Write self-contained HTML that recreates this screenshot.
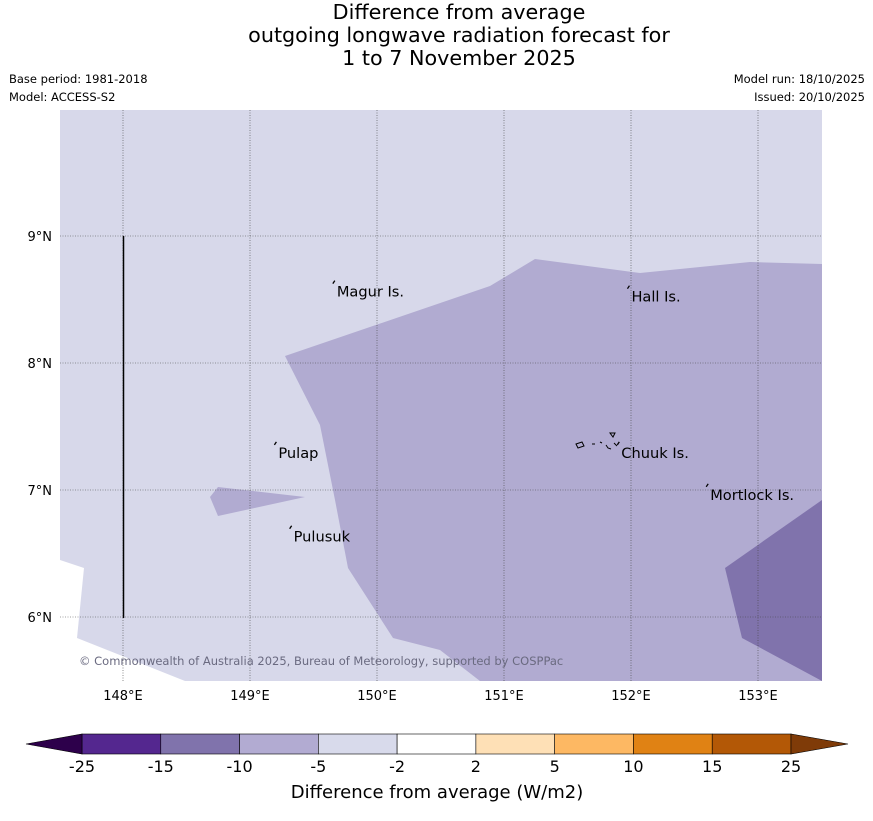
<!DOCTYPE html>
<html><head><meta charset="utf-8">
<style>
body{margin:0;background:#fff;font-family:"Liberation Sans","DejaVu Sans",sans-serif;}
svg text{font-family:"DejaVu Sans","Liberation Sans",sans-serif;}
</style></head>
<body>
<svg id="chart" width="873" height="816" viewBox="0 0 873 816" xmlns="http://www.w3.org/2000/svg">
<g font-size="20.7" text-anchor="middle" fill="#000">
<text x="459" y="19">Difference from average</text>
<text x="459" y="42">outgoing longwave radiation forecast for</text>
<text x="459" y="65">1 to 7 November 2025</text>
</g>
<text x="9" y="83" font-size="11.5">Base period: 1981-2018</text>
<text x="9" y="101" font-size="11.5">Model: ACCESS-S2</text>
<text x="865" y="83" font-size="11.5" text-anchor="end">Model run: 18/10/2025</text>
<text x="865" y="101" font-size="11.5" text-anchor="end">Issued: 20/10/2025</text>
<defs><clipPath id="mc"><rect x="60" y="110" width="762" height="571"/></clipPath></defs>
<g id="map" clip-path="url(#mc)"></g>
<g id="axes"></g>
<g id="cbar"></g>
<text x="437" y="798" font-size="18" text-anchor="middle">Difference from average (W/m2)</text>
</svg>
<script>
const lonTicks=[148,149,150,151,152,153];
const latTicks=[9,8,7,6];
const cbBounds=[-25,-15,-10,-5,-2,2,5,10,15,25];
const cbColors=['#54278f','#8073ac','#b2abd2','#d8daeb','#ffffff','#fee0b6','#fdb863','#e08214','#b35806'];
const cbLowColor='#2d004b', cbHighColor='#7f3b08';
const islands=[['Magur Is.',149.66,8.57],['Hall Is.',151.98,8.53],['Pulap',149.2,7.3],['Chuuk Is.',151.9,7.3],['Mortlock Is.',152.6,6.97],['Pulusuk',149.32,6.64]];
const x=lon=>123+(lon-148)*127, y=lat=>236-(lat-9)*127;
const NS='http://www.w3.org/2000/svg';
function mk(t,a,p){const e=document.createElementNS(NS,t);for(const k in a)e.setAttribute(k,a[k]);p.appendChild(e);return e;}
const map=document.getElementById('map'),axes=document.getElementById('axes'),cb=document.getElementById('cbar');
let e;
e=mk('rect',{x:60,y:110,width:762,height:571,fill:'#d7d8ea'},map);

e=mk('polygon',{points:'60,560 84,568 77,638 185,681 60,681',fill:'#fff'},map);

e=mk('polygon',{points:'285,356 490,286 535,259 640,273 750,262 822,264 822,681 480,681 440,650 393,638 348,568 335,500 320,425',fill:'#b1abd1'},map);

e=mk('polygon',{points:'218,487 305,497 218,516 210,497',fill:'#b1abd1'},map);

e=mk('polygon',{points:'822,500 725,568 742,638 822,681',fill:'#8073ac'},map);

lonTicks.forEach(l=>{e=mk('line',{x1:x(l),x2:x(l),y1:110,y2:681,stroke:'#444','stroke-width':0.6,'stroke-dasharray':'1,1.5'},map);

e=mk('text',{x:x(l),y:700,'font-size':13,'text-anchor':'middle'},axes);e.textContent=l+'°E';
});
latTicks.forEach(l=>{e=mk('line',{x1:60,x2:822,y1:y(l),y2:y(l),stroke:'#444','stroke-width':0.6,'stroke-dasharray':'1,1.5'},map);

e=mk('text',{x:52,y:y(l)+5,'font-size':13,'text-anchor':'end'},axes);e.textContent=l+'°N';
});
e=mk('line',{x1:123.5,x2:123.5,y1:236,y2:618,stroke:'#000','stroke-width':1.5},map);

islands.forEach(d=>{e=mk('text',{x:x(d[1])+3,y:y(d[2])+6,'font-size':14.6},map);e.textContent=d[0];

e=mk('path',{d:`M${x(d[1])-1},${y(d[2])-7} l2,-3`,stroke:'#000','stroke-width':1.3,fill:'none'},map);
});
e=mk('path',{d:'M576,444 l6,-2 l2,4 l-6,2 z M592,444 l3,0 M600,442 l2,1 M606,445 l2,3 l3,1 M610,433 l5,0 l-2,4 z M614,443 l3,3',stroke:'#000','stroke-width':1,fill:'none'},map);

e=mk('text',{x:79,y:665,'font-size':11.5,fill:'#6a6a80'},map);e.textContent='© Commonwealth of Australia 2025, Bureau of Meteorology, supported by COSPPac';

const cx0=82,cx1=791,cy=734,ch=20,seg=(cx1-cx0)/cbColors.length;
cbColors.forEach((c,i)=>{e=mk('rect',{x:cx0+i*seg,y:cy,width:seg,height:ch,fill:c,stroke:'#000','stroke-width':0.6},cb);
});
e=mk('polygon',{points:`${cx0},${cy} ${cx0},${cy+ch} 26,${cy+ch/2}`,fill:cbLowColor,stroke:'#000','stroke-width':0.6},cb);

e=mk('polygon',{points:`${cx1},${cy} ${cx1},${cy+ch} 848,${cy+ch/2}`,fill:cbHighColor,stroke:'#000','stroke-width':0.6},cb);

cbBounds.forEach((b,i)=>{e=mk('text',{x:cx0+i*seg,y:772,'font-size':16,'text-anchor':'middle'},cb);e.textContent=b;
});
</script>
</body></html>
